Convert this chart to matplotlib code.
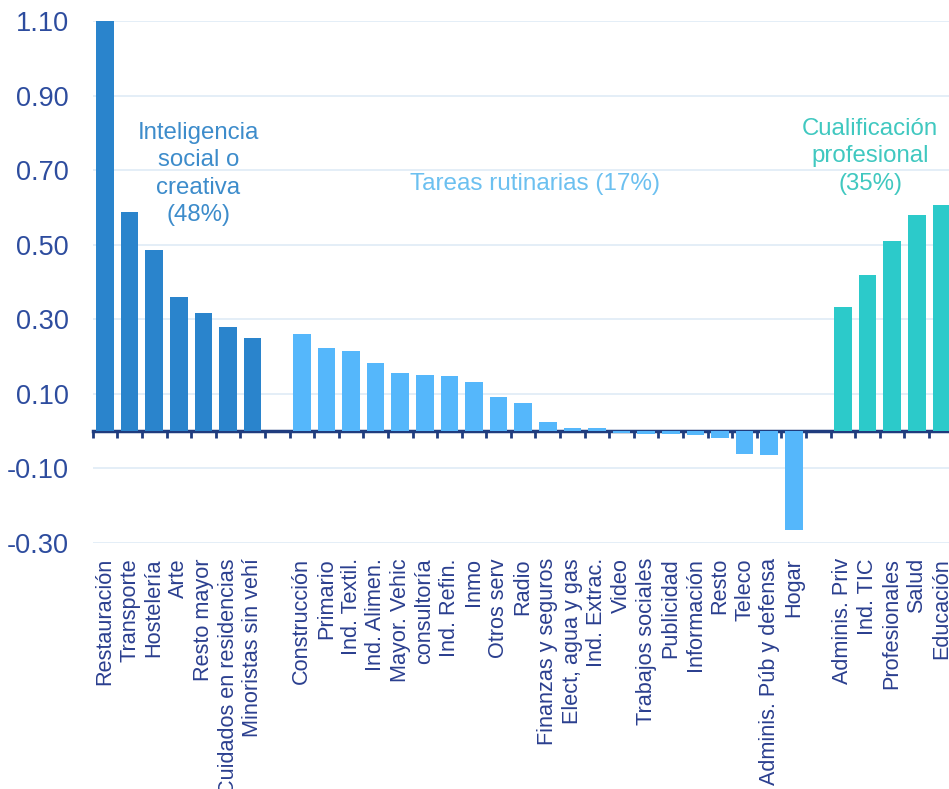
import numpy as np
import matplotlib
matplotlib.use("Agg")
import matplotlib.pyplot as plt

plt.rcParams['font.family'] = ['Liberation Sans', 'DejaVu Sans']

# data
grp1_labels = ["Restauración", "Transporte", "Hostelería", "Arte", "Resto mayor",
               "Cuidados en residencias", "Minoristas sin vehí"]
grp1_vals = [1.10, 0.587, 0.485, 0.361, 0.318, 0.279, 0.251]

grp2_labels = ["Construcción", "Primario", "Ind. Textil.", "Ind. Alimen.", "Mayor. Vehic",
               "consultoría", "Ind. Refin.", "Inmo", "Otros serv", "Radio",
               "Finanzas y seguros", "Elect, agua y gas", "Ind. Extrac.", "Video",
               "Trabajos sociales", "Publicidad", "Información", "Resto", "Teleco",
               "Adminis. Púb y defensa", "Hogar"]
grp2_vals = [0.260, 0.222, 0.216, 0.182, 0.155, 0.150, 0.148, 0.131, 0.091, 0.075,
             0.024, 0.008, 0.007, -0.006, -0.007, -0.008, -0.010, -0.018, -0.062,
             -0.065, -0.265]

grp3_labels = ["Adminis. Priv", "Ind. TIC", "Profesionales", "Salud", "Educación"]
grp3_vals = [0.333, 0.420, 0.511, 0.580, 0.606]

group_names = ["Inteligencia\nsocial o\ncreativa\n(48%)",
               "Tareas rutinarias (17%)",
               "Cualificación\nprofesional\n(35%)"]

c1, c2, c3 = "#2A84CC", "#55B7FB", "#2CCACA"
navy = "#1F3C7E"
tick_col = "#2D4C9E"

# positions with one empty slot between groups
x1 = np.arange(len(grp1_labels))
x2 = np.arange(len(grp2_labels)) + len(grp1_labels) + 1
x3 = np.arange(len(grp3_labels)) + x2[-1] + 2

fig = plt.figure(figsize=(9.49, 7.89), dpi=100)
ax = fig.add_axes([0.0977, 0.312, 0.9023, 0.661])

ymin, ymax = -0.30, 1.10
ax.set_ylim(ymin, ymax)
ax.set_xlim(-0.5, 34.31)
ax.set_yticks(np.arange(-0.30, 1.11, 0.20))
ax.set_yticklabels(["%.2f" % v for v in np.arange(-0.30, 1.11, 0.20)])
ax.grid(axis='y', color="#DCEAF5", linewidth=1.1)
ax.set_axisbelow(True)
for s in ax.spines.values():
    s.set_visible(False)

w = 0.72
ax.bar(x1, grp1_vals, width=w, color=c1, zorder=2)
ax.bar(x2, grp2_vals, width=w, color=c2, zorder=2)
ax.bar(x3, grp3_vals, width=w, color=c3, zorder=2)

allx = np.concatenate([x1, x2, x3])
ax.set_xticks(allx)
ax.set_xticklabels(grp1_labels + grp2_labels + grp3_labels, rotation=90,
                   fontsize=15.6, color="#2B3F8F")
ax.tick_params(axis='x', length=0, pad=11)
ax.tick_params(axis='y', length=0, pad=17, labelsize=19.5, labelcolor=tick_col)

# zero line with downward tick marks at slot boundaries
zero_frac = (0 - ymin) / (ymax - ymin)
sec = ax.secondary_xaxis(zero_frac)
sec.spines['bottom'].set_color(navy)
sec.spines['bottom'].set_linewidth(2.5)
sec.set_xticks(np.arange(-0.5, 35, 1.0))
sec.tick_params(axis='x', direction='out', length=5, width=2, color=navy,
                labelbottom=False, labeltop=False)

ax.text(3.8, 0.69, group_names[0], ha='center', va='center', fontsize=17.3,
        color="#3D8CCB", linespacing=1.33)
ax.text(17.5, 0.663, group_names[1], ha='center', va='center', fontsize=17.5,
        color="#6CC0F0")
ax.text(31.1, 0.738, group_names[2], ha='center', va='center', fontsize=17.3,
        color="#40C8C0", linespacing=1.33)

fig.savefig("out.png", dpi=100)
